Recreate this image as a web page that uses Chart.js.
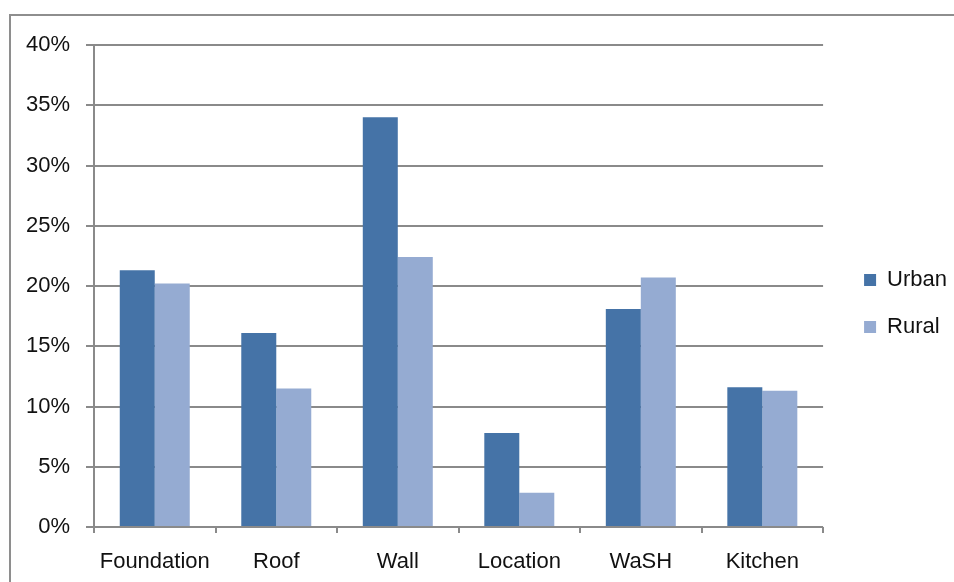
<!DOCTYPE html>
<html>
<head>
<meta charset="utf-8">
<script src="https://cdn.jsdelivr.net/npm/chart.js@4"></script>
<style>
  html, body { margin: 0; padding: 0; background: #fff; }
  #wrap { width: 954px; height: 582px; }
</style>
</head>
<body>
<div id="wrap"><canvas id="myChart"></canvas></div>
<script>
const categories = ["Foundation", "Roof", "Wall", "Location", "WaSH", "Kitchen"];
const urban = [21.3, 16.1, 34.0, 7.8, 18.1, 11.6];
const rural = [20.2, 11.5, 22.4, 2.85, 20.7, 11.3];
const yTicks = [0, 5, 10, 15, 20, 25, 30, 35, 40];

const gridGray = "#8a8a8a";
const font = { family: "'Liberation Sans', Arial, sans-serif", size: 22 };

// outer frame around the whole chart
const frame = {
  id: "frame",
  beforeDraw(chart) {
    const c = chart.ctx;
    c.save();
    c.strokeStyle = "#8e8e8e";
    c.lineWidth = 2;
    c.strokeRect(10, 15, 980, 620);
    c.restore();
  },
};

// nudge the legend right of the plot and up a little
const legendShift = {
  id: "legendShift",
  afterUpdate(chart) {
    const lg = chart.legend;
    lg.left += 16;
    lg.right += 16;
    lg.top -= 10;
    lg.bottom -= 10;
  },
};

const ctx = document.getElementById("myChart");

new Chart(ctx, {
  type: "bar",
  data: {
    labels: categories,
    datasets: [
      {
        label: "Urban",
        data: urban,
        backgroundColor: "#4573a7",
        categoryPercentage: 0.576,
        barPercentage: 1.0,
      },
      {
        label: "Rural",
        data: rural,
        backgroundColor: "#95abd2",
        categoryPercentage: 0.576,
        barPercentage: 1.0,
      },
    ],
  },
  options: {
    responsive: true,
    maintainAspectRatio: false,
    animation: false,
    layout: { padding: { left: 10, top: 45, right: 13, bottom: 0 } },
    plugins: {
      tooltip: { enabled: false },
      legend: {
        position: "right",
        labels: {
          boxWidth: 12,
          boxHeight: 12,
          padding: 25,
          color: "#111",
          font: font,
        },
      },
    },
    scales: {
      x: {
        grid: {
          drawOnChartArea: false,
          drawTicks: true,
          tickLength: 6,
          color: gridGray,
          lineWidth: 2,
        },
        border: { display: false },
        ticks: { color: "#111", font: font, padding: 16 },
        afterFit(scale) {
          scale.height = 55;
        },
      },
      y: {
        min: 0,
        max: 40,
        afterBuildTicks(scale) {
          scale.ticks = yTicks.map((v) => ({ value: v }));
        },
        grid: { color: gridGray, lineWidth: 2, tickLength: 8 },
        border: { color: gridGray, width: 2 },
        ticks: {
          color: "#111",
          font: font,
          padding: 16,
          callback: (v) => v + "%",
        },
        afterFit(scale) {
          scale.width = 84;
        },
      },
    },
  },
  plugins: [frame, legendShift],
});
</script>
</body>
</html>
